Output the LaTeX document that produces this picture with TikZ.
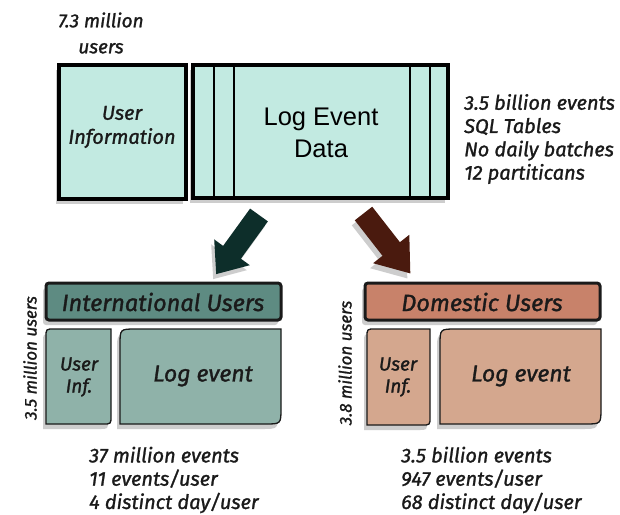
\documentclass[tikz,border=0pt]{standalone}
\usepackage{fontspec}
\setmainfont{Fira Sans}[ItalicFeatures={FakeBold=1.3}]
\newfontfamily\arialf{Liberation Sans}
\usetikzlibrary{shadows}
\definecolor{mint}{HTML}{C2EAE1}
\definecolor{intbar}{HTML}{5E8B82}
\definecolor{intbox}{HTML}{8FB2A9}
\definecolor{dombar}{HTML}{C8826A}
\definecolor{dombox}{HTML}{D4A78E}
\definecolor{arrL}{HTML}{0D2E2A}
\definecolor{arrR}{HTML}{4A1A0E}
\definecolor{ink}{HTML}{1A1A1A}
\tikzset{
  shd/.style={drop shadow={shadow xshift=-3pt,shadow yshift=-5pt,opacity=0.28,fill=black!70}},
  topbox/.style={draw=black,line width=3.5pt,fill=mint,shd},
  bar/.style={draw=ink,line width=3pt,rounded corners=3pt,shd},
  lowbox/.style={draw=ink,line width=1.3pt,shd},
  lbl/.style={font=\itshape,text=ink,inner sep=0pt,align=center},
  note/.style={font=\itshape\fontsize{20}{23.3}\selectfont,text=ink,inner sep=0pt,align=left,anchor=west}
}
\newcommand{\rbox}[6]{%
  \path[#6] (#1,#4) -- (#1,{#2+#5}) .. controls (#1,#2) .. ({#1+#5},#2) -- (#3,#2) -- (#3,{#4-#5}) .. controls (#3,#4) .. ({#3-#5},#4) -- cycle;}
\begin{document}
\begin{tikzpicture}[x=1pt,y=-1pt]
\useasboundingbox[fill=white] (0,0) rectangle (620,514);
% top boxes
\path[topbox] (59,65) rectangle (186,199);
\path[topbox] (193,65) rectangle (448,198);
\foreach \xx in {214,234,410,430} \draw[line width=2pt,black] (\xx,66) -- (\xx,197);
\node[lbl,font=\itshape\fontsize{20}{24}\selectfont] (ui) at (122,127) {User\\Information};
\node[lbl,font=\arialf\fontsize{25.5}{32}\selectfont,text=black] (led) at (321,133) {Log Event\\Data};
\node[lbl,font=\itshape\fontsize{19}{26}\selectfont] (mu) at (101,33) {7.3 million\\users};
\node[note] (stats) at (464,139) {3.5 billion events\\SQL Tables\\No daily batches\\12 partiticans};
% arrows
\path[fill=arrL,shd] (250.1,208.6) -- (223.1,245.9) -- (214.2,239.4) -- (216.2,274.1) -- (249.8,265.2) -- (240.9,258.7) -- (267.9,221.4) -- cycle;
\path[fill=arrR,shd] (372.2,206.7) -- (399.9,242.2) -- (409.3,234.8) -- (410.3,273.4) -- (373.1,263.2) -- (382.5,255.8) -- (354.8,220.3) -- cycle;
% international
\path[bar,fill=intbar] (46,283) rectangle (281,320);
\node[lbl,font=\itshape\fontsize{23.5}{24}\selectfont] (ibar) at (163,302) {International Users};
\rbox{46}{329}{111}{424}{8}{lowbox,fill=intbox}
\rbox{120}{329}{281}{424}{16}{lowbox,fill=intbox}
\node[lbl,font=\itshape\fontsize{19}{22}\selectfont] (iui) at (79,377) {User\\Inf.};
\node[lbl,font=\itshape\fontsize{23}{24}\selectfont] (ile) at (203,376) {Log event};
\node[lbl,font=\itshape\fontsize{17}{18}\selectfont,rotate=90] (imu) at (30,358) {3.5 million users};
\node[note] (istat) at (89,480) {37 million events\\11 events/user\\4 distinct day/user};
% domestic
\path[bar,fill=dombar] (365,283) rectangle (600,320);
\node[lbl,font=\itshape\fontsize{23.5}{24}\selectfont] (dbar) at (482,302) {Domestic Users};
\rbox{367}{329}{430}{425}{8}{lowbox,fill=dombox}
\rbox{440}{329}{601}{424}{16}{lowbox,fill=dombox}
\node[lbl,font=\itshape\fontsize{19}{22}\selectfont] (dui) at (398,377) {User\\Inf.};
\node[lbl,font=\itshape\fontsize{23}{24}\selectfont] (dle) at (521,376) {Log event};
\node[lbl,font=\itshape\fontsize{17}{18}\selectfont,rotate=90] (dmu) at (345,363) {3.8 million users};
\node[note] (dstat) at (401,480) {3.5 billion events\\947 events/user\\68 distinct day/user};
\end{tikzpicture}
\end{document}
